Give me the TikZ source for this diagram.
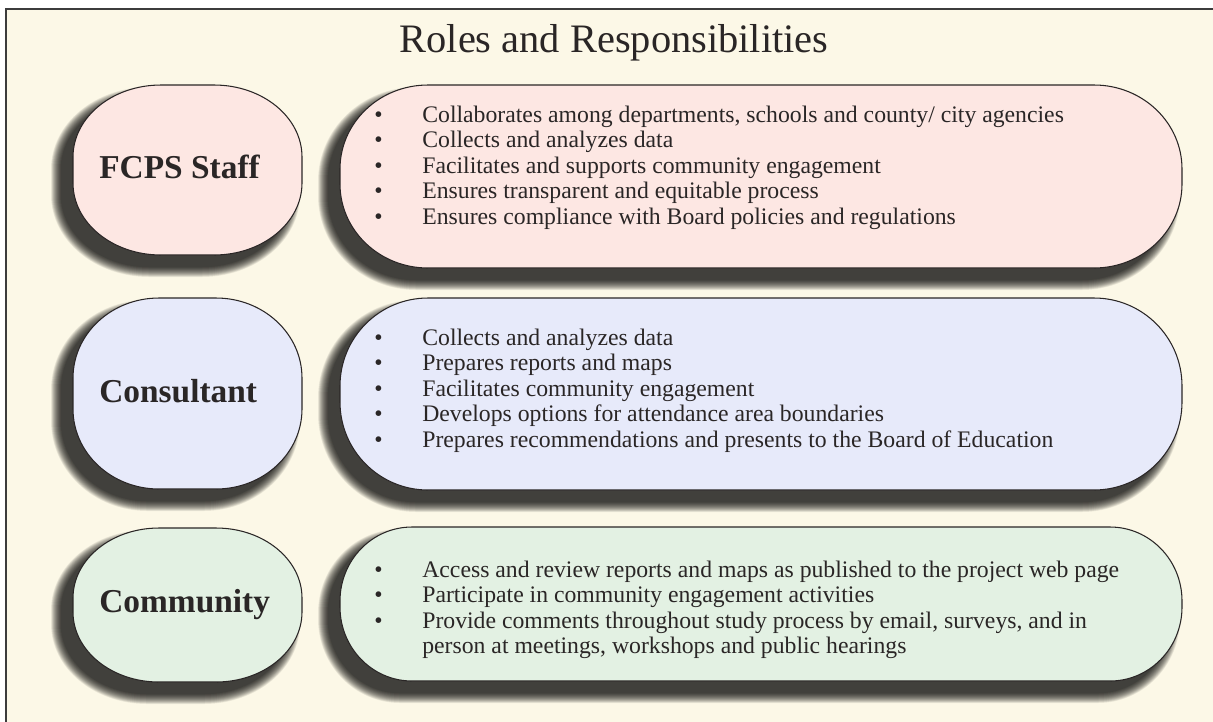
\documentclass[tikz,border=0pt]{standalone}
\usepackage{fontspec}
\setmainfont{Liberation Serif}
\usepackage{tikz}

\definecolor{paper}{HTML}{FCF8E7}
\definecolor{frameLine}{HTML}{3C3C3C}
\definecolor{inkGray}{HTML}{2A2626}
\definecolor{staffFill}{HTML}{FDE7E3}
\definecolor{consultFill}{HTML}{E7EAFA}
\definecolor{communityFill}{HTML}{E3F1E3}

% rounded panel from (#1,#2) to (#3,#4), corner radii #5/#6, fill #7,
% with a soft shadow down and to the left
\newcommand{\rolePanel}[7]{%
    \foreach \e in {0,0.5,...,10}{
        \fill[black, opacity=0.06, shift={(-12,12)}]
            (#1+#5,#2-\e) -- (#3-#5,#2-\e)
            arc[start angle=-90, end angle=0, x radius=#5+\e, y radius=#6+\e]
            -- (#3+\e,#4-#6)
            arc[start angle=0, end angle=90, x radius=#5+\e, y radius=#6+\e]
            -- (#1+#5,#4+\e)
            arc[start angle=90, end angle=180, x radius=#5+\e, y radius=#6+\e]
            -- (#1-\e,#2+#6)
            arc[start angle=180, end angle=270, x radius=#5+\e, y radius=#6+\e]
            -- cycle;
    }
    \filldraw[fill=#7, draw=inkGray, line width=0.6pt]
        (#1+#5,#2) -- (#3-#5,#2)
        arc[start angle=-90, end angle=0, x radius=#5, y radius=#6]
        -- (#3,#4-#6)
        arc[start angle=0, end angle=90, x radius=#5, y radius=#6]
        -- (#1+#5,#4)
        arc[start angle=90, end angle=180, x radius=#5, y radius=#6]
        -- (#1,#2+#6)
        arc[start angle=180, end angle=270, x radius=#5, y radius=#6]
        -- cycle;
}

\begin{document}
\begin{tikzpicture}[x=0.02cm, y=-0.02cm, every node/.style={inner sep=0pt}]
    \tikzstyle{roleName} = [anchor=base west, text=inkGray,
        font=\fontsize{19}{22}\selectfont\bfseries]
    \tikzstyle{dutyList} = [anchor=north west, text=inkGray,
        font=\fontsize{13.5}{14.5}\selectfont]

    % page and frame
    \useasboundingbox (0,0) rectangle (1213,721);
    \fill[white] (0,0) rectangle (1213,721);
    \begin{scope}
        \clip (0,0) rectangle (1213,721);
        \draw[frameLine, fill=paper, line width=0.8pt] (6,9) rectangle (1240,740);
    \end{scope}

    \node[text=inkGray, anchor=base, font=\fontsize{23}{27}\selectfont]
        (title) at (614,52) {Roles and Responsibilities};

    % FCPS staff
    \rolePanel{73}{85}{302}{255}{88}{72}{staffFill}
    \rolePanel{340}{85}{1182}{268}{88}{84}{staffFill}
    \node[roleName] (staff) at (99,178) {FCPS Staff};
    \node[dutyList] (staffList) at (374,104) {\begin{tabular}{@{}p{0.96cm}@{}l@{}}
        \textbullet & Collaborates among departments, schools and county/ city agencies\\
        \textbullet & Collects and analyzes data\\
        \textbullet & Facilitates and supports community engagement\\
        \textbullet & Ensures transparent and equitable process\\
        \textbullet & Ensures compliance with Board policies and regulations
    \end{tabular}};

    % consultant
    \rolePanel{73}{298}{302}{489}{86}{80}{consultFill}
    \rolePanel{340}{298}{1182}{490}{88}{88}{consultFill}
    \node[roleName] (consultant) at (99,402) {Consultant};
    \node[dutyList] (consultantList) at (374,327) {\begin{tabular}{@{}p{0.96cm}@{}l@{}}
        \textbullet & Collects and analyzes data\\
        \textbullet & Prepares reports and maps\\
        \textbullet & Facilitates community engagement\\
        \textbullet & Develops options for attendance area boundaries\\
        \textbullet & Prepares recommendations and presents to the Board of Education
    \end{tabular}};

    % community
    \rolePanel{73}{528}{302}{682}{86}{70}{communityFill}
    \rolePanel{340}{527}{1182}{681}{72}{74}{communityFill}
    \node[roleName] (community) at (99,612) {Community};
    \node[dutyList] (communityList) at (374,559) {\begin{tabular}{@{}p{0.96cm}@{}l@{}}
        \textbullet & Access and review reports and maps as published to the project web page\\
        \textbullet & Participate in community engagement activities\\
        \textbullet & Provide comments throughout study process by email, surveys, and in\\
                    & person at meetings, workshops and public hearings
    \end{tabular}};
\end{tikzpicture}
\end{document}
